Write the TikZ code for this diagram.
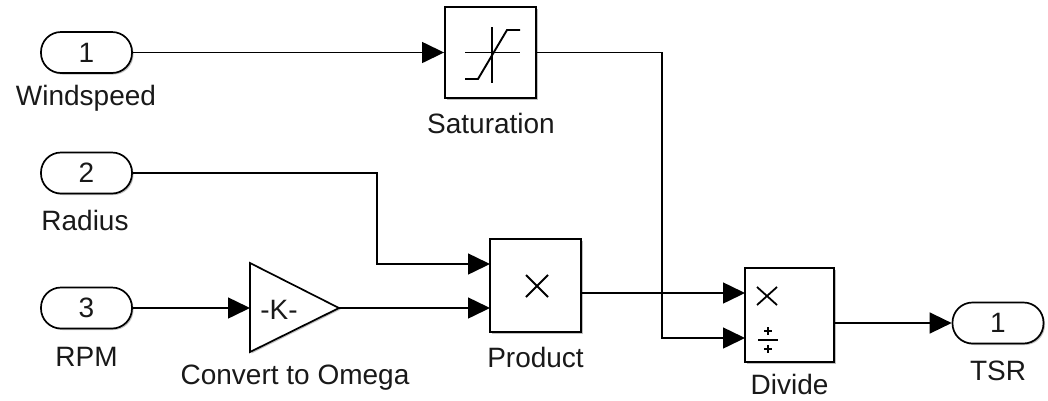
\documentclass[tikz,border=0pt]{standalone}
\usepackage{fontspec}
\setmainfont{Liberation Sans}
\usetikzlibrary{arrows.meta,shadows}
\begin{document}
\begin{tikzpicture}[x=1pt,y=-1pt,
  shd/.style={drop shadow={fill=black, opacity=0.25, shadow xshift=1.5pt, shadow yshift=-1.5pt}},
  lbl/.style={font=\fontsize{28}{30}\selectfont, text=black!90, inner sep=0pt, anchor=base},
  port/.style={draw, line width=1.7pt, fill=white, shd, rounded corners=20pt,
    minimum width=91pt, minimum height=41pt, inner sep=0pt, font=\fontsize{28}{30}\selectfont, text=black!90},
  blk/.style={draw, line width=1.9pt, fill=white, shd, inner sep=0pt},
  conn/.style={line width=1.5pt, -{Triangle[length=22pt,width=21pt]}},
  icon/.style={line width=1.9pt}
]
\useasboundingbox (0,0) rectangle (1048,400);

% ports
\node[port] (in1) at (86.5,52.5) {1};
\node[port] (in2) at (86.5,173) {2};
\node[port] (in3) at (86.5,308) {3};
\node[port] (out1) at (998,323) {1};

% blocks
\node[blk, minimum width=91pt, minimum height=91pt] (sat) at (490.5,52.5) {};
\node[blk, minimum width=91pt, minimum height=93pt] (prod) at (535.5,285.5) {};
\node[blk, minimum width=89pt, minimum height=94pt] (div) at (789.5,315) {};

% gain triangle
\coordinate (gin) at (250,308);
\coordinate (gout) at (339,308);
\coordinate (gtop) at (250,263);
\coordinate (gbot) at (250,352);
\draw[line width=1.7pt, fill=white, shd, line join=miter] (gtop) -- (gout) -- (gbot) -- cycle;
\node[lbl, anchor=center] (k) at (279,310) {-K-};

% saturation icon
\begin{scope}[shift={(sat.center)}]
  \draw[icon] (-25.5,0) -- (29.5,0);
  \draw[icon] (1.5,-25.5) -- (1.5,30.5);
  \draw[icon] (-25.5,26.5) -- (-12.5,26.5) -- (16.5,-22.5) -- (29.5,-22.5);
\end{scope}

% product icon
\begin{scope}[shift={(537,286)}]
  \draw[line width=1.8pt] (-11,-11) -- (11,11) (-11,11) -- (11,-11);
\end{scope}

% divide icons
\begin{scope}[shift={(767,296)}]
  \draw[line width=1.8pt] (-10,-9) -- (10,9) (-10,9) -- (10,-9);
\end{scope}
\begin{scope}[shift={(768,340)}]
  \draw[line width=1.8pt] (-10,0) -- (10,0);
  \draw[line width=2pt] (-4,-9) -- (4,-9) (0,-13) -- (0,-5);
  \draw[line width=2pt] (-4,9) -- (4,9) (0,5) -- (0,13);
\end{scope}

% port coordinates
\coordinate (p1) at (490,264);
\coordinate (p2) at (490,308);
\coordinate (pout) at (581,293);
\coordinate (d1) at (745,293);
\coordinate (d2) at (745,338);
\coordinate (dout) at (834,323);
\coordinate (r1) at (377,173);
\coordinate (s1) at (662,52.5);

% connectors
\draw[conn] (in1.east) -- (sat.west);
\draw[conn] (in2.east) -- (r1) |- (p1);
\draw[conn] (in3.east) -- (gin);
\draw[conn] (gout) -- (p2);
\draw[conn] (sat.east) -- (s1) |- (d2);
\draw[conn] (pout) -- (d1);
\draw[conn] (dout) -- (out1.west);

% labels
\node[lbl] (lw) at (86,105) {Windspeed};
\node[lbl] (lr) at (85,230) {Radius};
\node[lbl] (lrpm) at (86.5,366) {RPM};
\node[lbl] (ls) at (491,133) {Saturation};
\node[lbl] (lc) at (295,384) {Convert to Omega};
\node[lbl] (lp) at (535.5,367) {Product};
\node[lbl] (ld) at (789.5,394) {Divide};
\node[lbl] (lt) at (998,380) {TSR};
\end{tikzpicture}
\end{document}
